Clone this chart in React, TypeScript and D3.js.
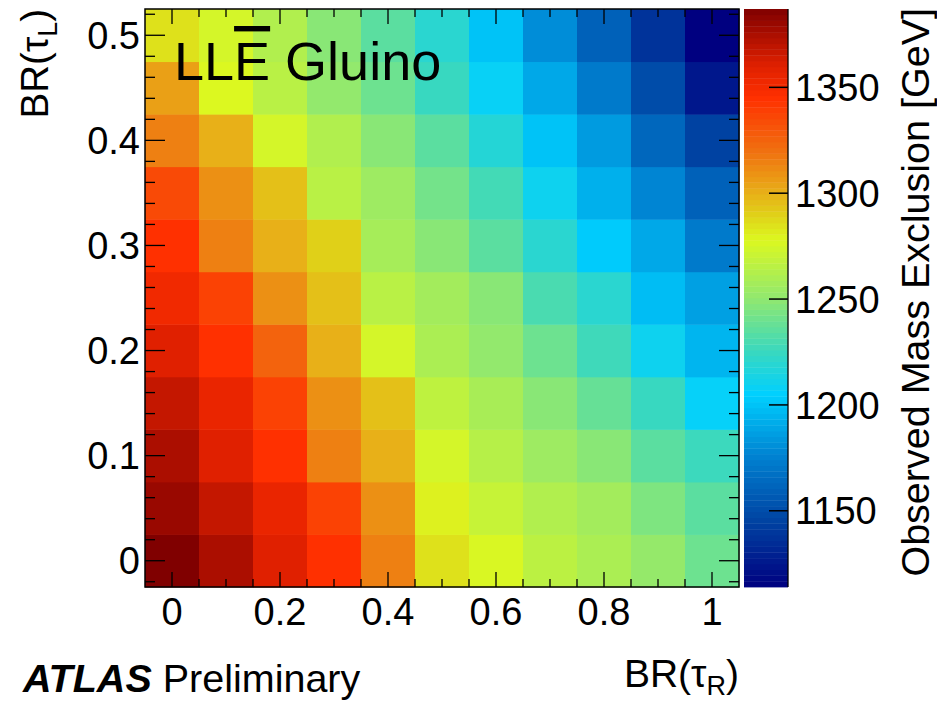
import React from 'react'
import * as d3 from 'd3'

// BR(tau_R) columns and BR(tau_L) rows
const brR = [0, 0.1, 0.2, 0.3, 0.4, 0.5, 0.6, 0.7, 0.8, 0.9, 1.0]
const brL = [0, 0.05, 0.1, 0.15, 0.2, 0.25, 0.3, 0.35, 0.4, 0.45, 0.5]

// observed gluino mass exclusion [GeV], one array per BR(tau_L) row
const massL000 = [1387, 1375, 1360, 1345, 1315, 1285, 1277, 1266, 1260, 1252, 1240]
const massL005 = [1380, 1368, 1355, 1338, 1310, 1280, 1270, 1262, 1257, 1245, 1235]
const massL010 = [1375, 1360, 1345, 1315, 1300, 1275, 1264, 1255, 1248, 1235, 1226]
const massL015 = [1368, 1355, 1338, 1310, 1295, 1267, 1259, 1248, 1238, 1225, 1207]
const massL020 = [1360, 1345, 1325, 1300, 1275, 1260, 1251, 1240, 1227, 1210, 1195]
const massL025 = [1352, 1338, 1310, 1295, 1265, 1257, 1248, 1230, 1220, 1198, 1187]
const massL030 = [1345, 1315, 1300, 1290, 1258, 1248, 1235, 1220, 1203, 1190, 1172]
const massL035 = [1335, 1310, 1295, 1265, 1255, 1242, 1228, 1210, 1193, 1177, 1160]
const massL040 = [1315, 1300, 1275, 1262, 1248, 1235, 1218, 1200, 1185, 1163, 1145]
const massL045 = [1305, 1278, 1265, 1251, 1240, 1225, 1208, 1190, 1172, 1150, 1125]
const massL050 = [1285, 1275, 1262, 1248, 1235, 1220, 1200, 1180, 1160, 1138, 1114]
const massRows = [massL000, massL005, massL010, massL015, massL020, massL025,
  massL030, massL035, massL040, massL045, massL050]

const xTicks = [0, 0.2, 0.4, 0.6, 0.8, 1]
const xTickLabels = ['0', '0.2', '0.4', '0.6', '0.8', '1']
const yTicks = [0, 0.1, 0.2, 0.3, 0.4, 0.5]
const yTickLabels = ['0', '0.1', '0.2', '0.3', '0.4', '0.5']
const zTicks = [1150, 1200, 1250, 1300, 1350]
const zTickLabels = ['1150', '1200', '1250', '1300', '1350']
const zRange = [1114, 1387]

// palette
const paletteValues = [1114, 1144, 1175, 1205, 1225, 1250, 1278, 1290, 1300, 1320, 1345, 1360, 1387]
const paletteColors = ['#000080', '#0040a0', '#0080d0', '#00d0ff', '#38d8c0', '#90e870', '#dcf820',
  '#e0d018', '#e8b018', '#f07010', '#ff3000', '#e02000', '#800000']

const font = '"Liberation Sans", Arial, Helvetica, sans-serif'

const App = () => {
  const W = 937, H = 701
  const x = d3.scaleLinear().domain([-0.05, 1.05]).range([145, 739])
  const y = d3.scaleLinear().domain([-0.025, 0.525]).range([587, 9])
  const z = d3.scaleLinear().domain(zRange).range([587, 9])
  const color = d3.scaleLinear<string>().domain(paletteValues).range(paletteColors)
    .interpolate(d3.interpolateRgb).clamp(true)

  const cells = []
  massRows.forEach((row, j) => {
    row.forEach((v, i) => {
      cells.push({ i, j, v })
    })
  })

  const xMinor = d3.range(0, 1.001, 0.05).filter(t => Math.abs(t / 0.2 - Math.round(t / 0.2)) > 1e-6)
  const yMinor = d3.range(-0.02, 0.521, 0.02).filter(t => Math.abs(t / 0.1 - Math.round(t / 0.1)) > 1e-6)

  const bands = d3.range(0, 100).map(k => zRange[0] + (k + 0.5) * (zRange[1] - zRange[0]) / 100)
  const bandH = (z(zRange[0]) - z(zRange[1])) / 100

  const [x0, x1] = x.range()
  const [yb, yt] = y.range()
  const cbL = 744, cbR = 788

  return (
    <svg width={W} height={H} style={{ position: 'absolute', left: 0, top: 0, background: '#fff' }}
      fontFamily={font}>
      {/* heatmap cells */}
      {cells.map(c => (
        <rect key={`${c.i}-${c.j}`}
          x={x(brR[c.i] - 0.05)} y={y(brL[c.j] + 0.025)}
          width={x(brR[c.i] + 0.05) - x(brR[c.i] - 0.05) + 0.5}
          height={y(brL[c.j] - 0.025) - y(brL[c.j] + 0.025) + 0.5}
          fill={color(c.v)} />
      ))}

      {/* frame */}
      <rect x={x0} y={yt} width={x1 - x0} height={yb - yt} fill="none" stroke="#000" strokeWidth={1.5} />

      {/* x ticks */}
      {xTicks.map(t => (
        <g key={'xt' + t}>
          <line x1={x(t)} x2={x(t)} y1={yb} y2={yb - 15} stroke="#000" strokeWidth={1.3} />
          <line x1={x(t)} x2={x(t)} y1={yt} y2={yt + 15} stroke="#000" strokeWidth={1.3} />
        </g>
      ))}
      {xMinor.map(t => (
        <g key={'xm' + t}>
          <line x1={x(t)} x2={x(t)} y1={yb} y2={yb - 8} stroke="#000" strokeWidth={1.3} />
          <line x1={x(t)} x2={x(t)} y1={yt} y2={yt + 8} stroke="#000" strokeWidth={1.3} />
        </g>
      ))}
      {xTicks.map((t, k) => (
        <text key={'xl' + t} x={x(t)} y={625} textAnchor="middle" fontSize={38}>{xTickLabels[k]}</text>
      ))}

      {/* y ticks */}
      {yTicks.map(t => (
        <g key={'yt' + t}>
          <line x1={x0} x2={x0 + 20} y1={y(t)} y2={y(t)} stroke="#000" strokeWidth={1.3} />
          <line x1={x1} x2={x1 - 20} y1={y(t)} y2={y(t)} stroke="#000" strokeWidth={1.3} />
        </g>
      ))}
      {yMinor.map(t => (
        <g key={'ym' + t}>
          <line x1={x0} x2={x0 + 10} y1={y(t)} y2={y(t)} stroke="#000" strokeWidth={1.3} />
          <line x1={x1} x2={x1 - 10} y1={y(t)} y2={y(t)} stroke="#000" strokeWidth={1.3} />
        </g>
      ))}
      {yTicks.map((t, k) => (
        <text key={'yl' + t} x={140} y={y(t)} dy="0.36em" textAnchor="end" fontSize={38}>{yTickLabels[k]}</text>
      ))}

      {/* colour bar */}
      {bands.map(v => (
        <rect key={'b' + v} x={cbL} y={z(v) - bandH / 2} width={cbR - cbL} height={bandH + 0.4} fill={color(v)} />
      ))}
      <line x1={cbR} x2={cbR} y1={z(zRange[0])} y2={z(zRange[1])} stroke="#000" strokeWidth={1.3} />
      {zTicks.map((t, k) => (
        <g key={'zt' + t}>
          <line x1={cbR} x2={cbR - 19} y1={z(t)} y2={z(t)} stroke="#000" strokeWidth={1.5} />
          <text x={795} y={z(t)} dy="0.36em" fontSize={38}>{zTickLabels[k]}</text>
        </g>
      ))}

      {/* axis titles */}
      <text transform="translate(929,8) rotate(-90)" textAnchor="end" fontSize={39.5}>
        Observed Mass Exclusion [GeV]
      </text>
      <text transform="translate(48,9) rotate(-90)" textAnchor="end" fontSize={38.5}>
        BR(τ<tspan fontSize={27} dy={9}>L</tspan><tspan dy={-9}>)</tspan>
      </text>
      <text x={739} y={687} textAnchor="end" fontSize={39}>
        BR(τ<tspan fontSize={27} dy={8}>R</tspan><tspan dy={-8}>)</tspan>
      </text>

      {/* labels */}
      <text x={174} y={80} fontSize={54}>
        LL<tspan textDecoration="overline">E</tspan> Gluino
      </text>
      <text x={23} y={692} fontSize={39.5}>
        <tspan fontWeight="bold" fontStyle="italic">ATLAS</tspan> Preliminary
      </text>
    </svg>
  )
}

export default App
